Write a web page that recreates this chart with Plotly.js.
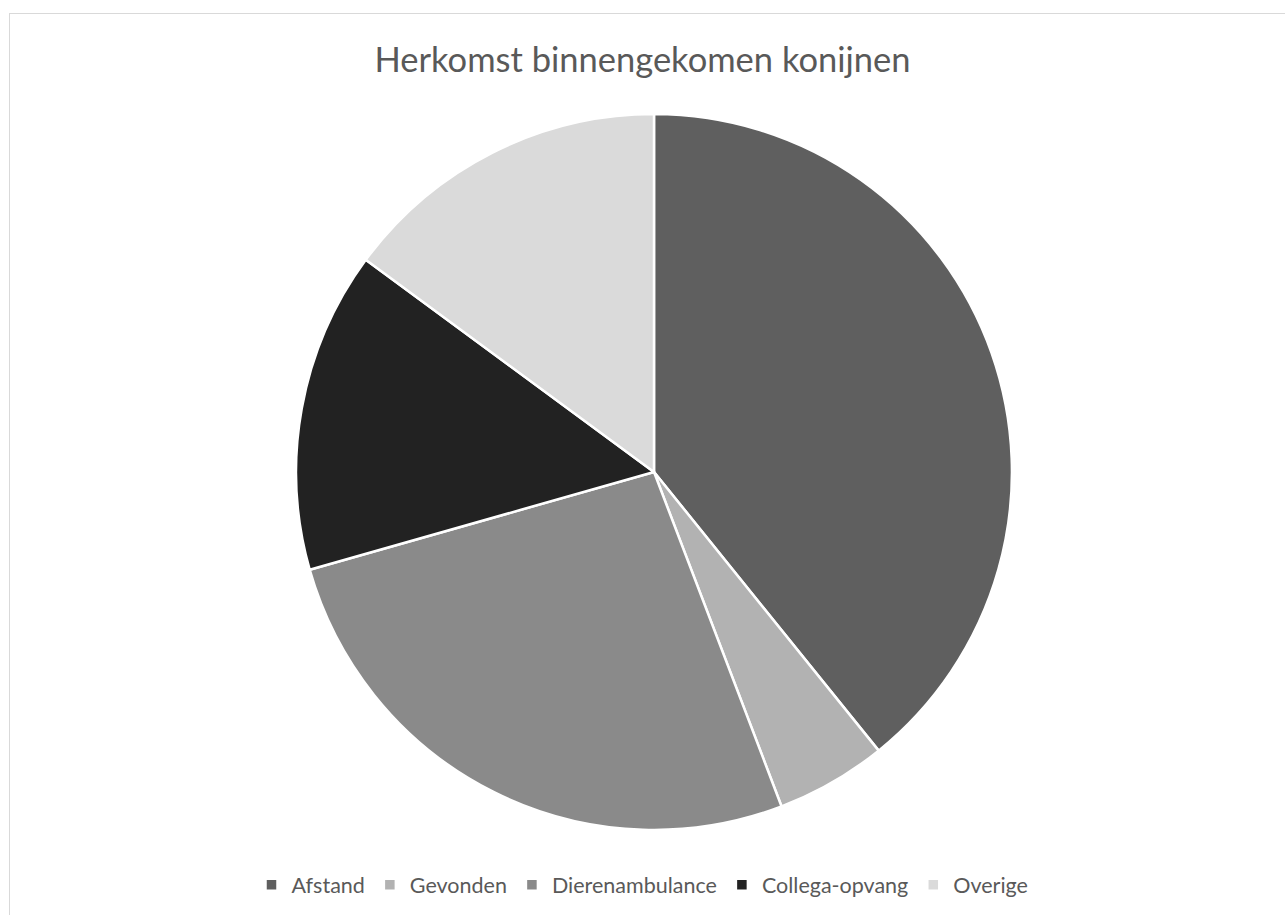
<!DOCTYPE html>
<html>
<head>
<meta charset="utf-8">
<script src="https://cdn.plot.ly/plotly-3.0.1.min.js"></script>
<style>
  html, body { margin: 0; padding: 0; background: #fff; }
  #chart { width: 1285px; height: 915px; position: relative; }
  #frame { position: absolute; left: 9px; top: 13px; right: -2px; bottom: -2px;
           border: 1px solid #d9d9d9; pointer-events: none; }
  #wrap { position: relative; width: 1285px; height: 915px; overflow: hidden; }
</style>
</head>
<body>
<div id="wrap">
  <div id="chart"></div>
  <div id="frame"></div>
</div>
<script>
const categories = ["Afstand", "Gevonden", "Dierenambulance", "Collega-opvang", "Overige"];
const values = [39.2, 5.0, 26.4, 14.5, 14.9];
const colors = ["#5f5f5f", "#b2b2b2", "#8a8a8a", "#222222", "#dadada"];

const data = [{
  type: "pie",
  labels: categories,
  values: values,
  sort: false,
  direction: "clockwise",
  rotation: 0,
  textinfo: "none",
  hoverinfo: "label+value",
  marker: { colors: colors, line: { color: "#ffffff", width: 2.5 } },
  domain: { x: [0.2304, 0.7875], y: [0.0929, 0.8754] }
}];

const layout = {
  width: 1285,
  height: 915,
  margin: { l: 0, r: 0, t: 0, b: 0 },
  paper_bgcolor: "#ffffff",
  title: {
    text: "Herkomst binnengekomen konijnen",
    font: { family: "Lato, sans-serif", size: 34.5, color: "#595959" },
    x: 0.5, xanchor: "center",
    y: 0.935, yanchor: "middle"
  },
  showlegend: true,
  legend: {
    orientation: "h",
    x: 0.5, xanchor: "center",
    y: 0.033, yanchor: "middle",
    font: { family: "Lato, sans-serif", size: 21.5, color: "#595959" },
    traceorder: "normal",
    itemwidth: 20
  }
};

Plotly.newPlot("chart", data, layout, { displayModeBar: false, staticPlot: true });
</script>
</body>
</html>
